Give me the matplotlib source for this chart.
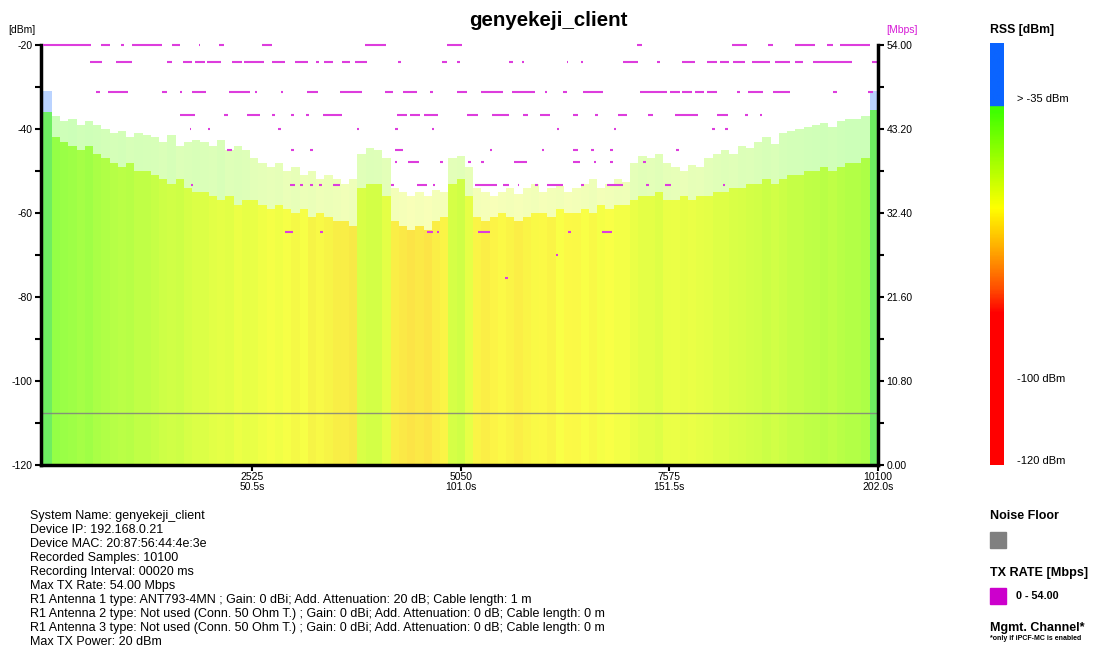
import numpy as np
import matplotlib
matplotlib.use('Agg')
import matplotlib.pyplot as plt
from matplotlib.colors import LinearSegmentedColormap, Normalize

plt.rcParams['font.family'] = ['Liberation Sans', 'DejaVu Sans']
plt.rcParams['axes.unicode_minus'] = False

# RSS per bin of 100 samples (10100 samples in total)
bin_size = 100
rss_peak = [-31,
            -37, -38, -37.5, -39, -38, -39,
            -40, -41, -40.5, -42, -41, -41.5,
            -42, -43, -41.5, -44, -43, -42.5,
            -43, -44, -42.5, -45, -44, -45,
            -47, -48, -49, -48, -50,
            -49, -51, -50, -52, -51, -52,
            -53, -52,
            -46, -44.5, -45, -47,
            -54, -55, -56, -55, -56, -54.5, -55,
            -47, -46.5,
            -49,
            -54, -55, -56, -55, -54, -55.5,
            -54, -53, -55, -54, -53.5, -55, -54,
            -53, -52, -54, -53, -52, -52.5,
            -48, -46.5, -47, -46, -48,
            -49, -50, -48.5, -49,
            -47, -46, -45, -46, -44, -44.5,
            -43, -42, -43.5, -41, -40.5, -40,
            -39.5, -39, -38.5, -39.5, -38, -37.5,
            -37.5, -37,
            -31]
rss_base = [-36,
            -42, -43, -44, -45, -44, -46,
            -47, -48, -49, -48, -50, -50,
            -51, -52, -53, -52, -54, -55,
            -55, -56, -57, -56, -58, -57,
            -57, -58, -59, -58, -59,
            -60, -59, -61, -60, -61, -62,
            -62, -63,
            -54, -53, -53, -56,
            -62, -63, -64, -63, -64, -62, -61,
            -53, -52,
            -56,
            -61, -62, -61, -60, -61, -62,
            -61, -60, -60, -61, -59, -60, -60,
            -59, -60, -58, -59, -58, -58,
            -57, -56, -56, -55, -57,
            -57, -56, -57, -56,
            -56, -55, -55, -54, -54, -53,
            -53, -52, -53, -52, -51, -51,
            -50, -50, -49, -50, -49, -48,
            -48, -47,
            -35.5]
noise_floor = -107.6

# TX rate [Mbps]: level -> list of (start sample, end sample)
tx_rate = {
    54.0: [(0, 580), (700, 800), (940, 980), (1070, 1440), (1550, 1650), (1880, 1900),
           (2130, 2190), (2650, 2770), (3890, 4150), (4880, 5070), (7180, 7240),
           (8330, 8510), (8770, 8830), (9100, 9340), (9480, 9550), (9640, 10000)],
    51.8: [(560, 710), (880, 1070), (1490, 1550), (1690, 1800), (1830, 1950), (1980, 2150),
           (2280, 2400), (2430, 2670), (2770, 2920), (3040, 3200), (3300, 3340), (3400, 3500),
           (3610, 3710), (3770, 3910), (4290, 4330), (4820, 4880), (5000, 5040), (5640, 5680),
           (5790, 5820), (6330, 6350), (6500, 6530), (7010, 7190), (7420, 7460), (7730, 7880),
           (8030, 8150), (8190, 8300), (8340, 8490), (8570, 8790), (8850, 9030), (9100, 9190),
           (9310, 9780), (10030, 10100)],
    48.0: [(640, 680), (780, 1020), (1440, 1490), (1650, 1680), (1800, 1970), (2250, 2500),
           (2560, 2590), (2870, 2900), (3190, 3320), (3590, 3850), (4130, 4230), (4350, 4520),
           (4680, 4720), (5000, 5120), (5300, 5560), (5670, 5950), (6070, 6100), (6290, 6330),
           (6530, 6770), (7220, 7550), (7580, 7700), (7730, 7850), (7880, 8000), (8030, 8150),
           (8390, 8430), (8530, 8710), (8830, 9030), (9560, 9600), (9980, 10040)],
    45.0: [(1650, 1830), (2190, 2230), (2460, 2620), (2760, 2800), (3000, 3030), (3180, 3210),
           (3380, 3610), (4280, 4400), (4430, 4560), (4600, 4770), (5120, 5260), (5430, 5640),
           (5800, 5860), (6010, 6130), (6410, 6470), (6680, 6710), (6950, 7060), (7320, 7380),
           (7640, 7920), (8150, 8280), (8490, 8530), (8670, 8700)],
    43.2: [(1770, 1790), (1990, 2010), (2840, 2870), (3790, 3820), (4260, 4290), (4700, 4730),
           (6210, 6240), (6900, 6930), (8090, 8130), (8250, 8280)],
    40.5: [(2220, 2280), (3000, 3030), (3230, 3260), (4250, 4350), (5400, 5430), (6030, 6060),
           (6410, 6470), (6630, 6660), (6860, 6890), (7660, 7690)],
    39.0: [(4250, 4280), (4410, 4550), (4800, 4830), (5140, 5180), (5300, 5330), (5700, 5850),
           (6410, 6490), (6660, 6690), (6860, 6890), (7260, 7290)],
    36.0: [(1780, 1810), (2980, 3040), (3110, 3140), (3220, 3260), (3340, 3370), (3500, 3590),
           (4210, 4240), (4520, 4640), (4710, 4740), (5220, 5490), (5560, 5640), (5740, 5760),
           (5950, 5980), (6100, 6290), (6510, 6540), (6820, 7010), (7290, 7330), (7520, 7600),
           (8220, 8250)],
    30.0: [(2920, 3020), (3350, 3380), (4640, 4710), (4760, 4790), (5260, 5400), (6350, 6390),
           (6760, 6880)],
    27.0: [(6200, 6230)],
    24.0: [(5590, 5620)],
}

x_ticks = [2525, 5050, 7575, 10100]
interval_s = 0.02
mbps_ticks = [0, 10.8, 21.6, 32.4, 43.2, 54.0]

info_lines = [
    "System Name: genyekeji_client",
    "Device IP: 192.168.0.21",
    "Device MAC: 20:87:56:44:4e:3e",
    "Recorded Samples: 10100",
    "Recording Interval: 00020 ms",
    "Max TX Rate: 54.00 Mbps",
    "R1 Antenna 1 type: ANT793-4MN ; Gain: 0 dBi; Add. Attenuation: 20 dB; Cable length: 1 m",
    "R1 Antenna 2 type: Not used (Conn. 50 Ohm T.) ; Gain: 0 dBi; Add. Attenuation: 0 dB; Cable length: 0 m",
    "R1 Antenna 3 type: Not used (Conn. 50 Ohm T.) ; Gain: 0 dBi; Add. Attenuation: 0 dB; Cable length: 0 m",
    "Max TX Power: 20 dBm",
]

# colour scale of the RSS values (-120 .. -35, blue above)
lo, hi = -120, -35
stops = [(-120, '#ff0000'), (-84, '#ff0000'), (-78, '#ff5000'), (-70, '#ffa000'),
         (-59, '#ffff00'), (-36, '#40ff00'), (-35, '#40ff00')]
rss_cmap = LinearSegmentedColormap.from_list(
    'rss', [((v - lo) / (hi - lo), c) for v, c in stops])
rss_cmap.set_over('#0a64ff')
norm = Normalize(lo, hi)

fig = plt.figure(figsize=(11.06, 6.5), dpi=100)
W, H = 1106, 650
ax = fig.add_axes([41 / W, 185 / H, 837 / W, 420 / H])

x = np.arange(len(rss_peak)) * bin_size
peak = np.array(rss_peak)
base = np.array(rss_base)
ax.bar(x, peak - (-120), bottom=-120, width=bin_size, align='edge',
       color=rss_cmap(norm(peak)), alpha=0.28, linewidth=0)
ax.bar(x, base - (-120), bottom=-120, width=bin_size, align='edge',
       color=rss_cmap(norm(base)), alpha=0.62, linewidth=0)
ax.plot([0, 10100], [noise_floor, noise_floor], color='#808080', lw=1, alpha=0.85)

ax.set_xlim(-30, 10100)
ax.set_ylim(-120, -20)
ax.set_yticks([-120, -100, -80, -60, -40, -20])
ax.set_yticks(np.arange(-110, -20, 20), minor=True)
ax.set_xticks(x_ticks)
ax.set_xticklabels([f"{t}\n{t * interval_s:.1f}s" for t in x_ticks], fontsize=7.5,
                   linespacing=1.0)
ax.tick_params(axis='y', labelsize=7.5, length=4, width=1.5, pad=2)
ax.tick_params(axis='y', which='minor', length=4, width=1.5)
ax.tick_params(axis='x', length=4, width=1.5, pad=1)
for s in ['left', 'bottom']:
    ax.spines[s].set_linewidth(2.5)
ax.spines['top'].set_visible(False)
ax.spines['right'].set_visible(False)

ax2 = ax.twinx()
ax2.set_ylim(0, 54)
for lvl, segs in tx_rate.items():
    for a, b in segs:
        ax2.plot([a, b], [lvl, lvl], color='#dd3ddd', lw=1.5, solid_capstyle='butt',
                 clip_on=False)
ax2.set_yticks(mbps_ticks)
ax2.set_yticklabels([f"{t:.2f}" for t in mbps_ticks])
ax2.set_yticks([5.4, 16.2, 27.0, 37.8, 48.6], minor=True)
ax2.tick_params(axis='y', labelsize=7.5, length=4, width=1.5, pad=2)
ax2.tick_params(axis='y', which='minor', length=4, width=1.5)
ax2.spines['right'].set_linewidth(2.5)
for s in ['left', 'top', 'bottom']:
    ax2.spines[s].set_visible(False)

fig.text(548 / W, 1 - 20 / H, "genyekeji_client", ha='center', va='center',
         fontsize=14.8, fontweight='bold')
fig.text(8 / W, 1 - 30 / H, "[dBm]", ha='left', va='center', fontsize=7.5)
fig.text(918 / W, 1 - 30 / H, "[Mbps]", ha='right', va='center', fontsize=7.5,
         color='#d61ad6')

for i, line in enumerate(info_lines):
    fig.text(30 / W, 1 - (516 + 14 * i) / H, line, ha='left', va='center', fontsize=9)

# legend panel
fig.text(990 / W, 1 - 30 / H, "RSS [dBm]", ha='left', va='center', fontsize=8.8,
         fontweight='bold')
cax = fig.add_axes([990 / W, 185 / H, 13 / W, 422 / H])
grad = np.linspace(-20, -120, 400).reshape(-1, 1)
cax.imshow(rss_cmap(norm(grad)), aspect='auto', extent=[0, 1, -120, -20])
cax.set_xlim(0, 1)
cax.set_ylim(-120, -20)
cax.axis('off')
for lab, yy in [("> -35 dBm", 99), ("-100 dBm", 379), ("-120 dBm", 461)]:
    fig.text(1017 / W, 1 - yy / H, lab, ha='left', va='center', fontsize=8)

fig.text(990 / W, 1 - 516 / H, "Noise Floor", ha='left', va='center', fontsize=9,
         fontweight='bold')
fig.patches.append(plt.Rectangle((990 / W, 1 - 548 / H), 16 / W, 16 / H,
                                 transform=fig.transFigure, color='#808080'))
fig.text(990 / W, 1 - 573 / H, "TX RATE [Mbps]", ha='left', va='center', fontsize=9.1,
         fontweight='bold')
fig.patches.append(plt.Rectangle((990 / W, 1 - 604 / H), 16 / W, 16 / H,
                                 transform=fig.transFigure, color='#cc00cc'))
fig.text(1016 / W, 1 - 596 / H, "0 - 54.00", ha='left', va='center', fontsize=7.8,
         fontweight='bold')
fig.text(990 / W, 1 - 628 / H, "Mgmt. Channel*", ha='left', va='center', fontsize=9,
         fontweight='bold')
fig.text(990 / W, 1 - 638 / H, "*only if iPCF-MC is enabled", ha='left', va='center',
         fontsize=5, fontweight='bold')

fig.savefig('out.png', dpi=100)
